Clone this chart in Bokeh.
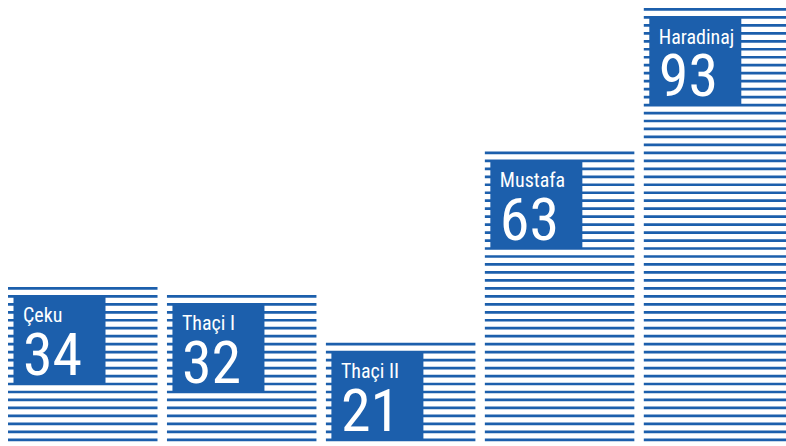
import numpy as np
from bokeh.plotting import figure
from bokeh.models import ColumnDataSource, Range1d
from bokeh.core.properties import value
from bokeh.embed import file_html
from bokeh.resources import INLINE

# ---- data ----
names = ["Çeku", "Thaçi I", "Thaçi II", "Mustafa", "Haradinaj"]
values = [34, 32, 21, 63, 93]

# ---- styling / layout constants ----
COLOR = "#1c5fac"
FONT = ("Noto Sans ExtraCondensed, Noto Sans Condensed, Roboto Condensed, "
        "Liberation Sans Narrow, DejaVu Sans Condensed, sans-serif")
W, H = 786, 446
KX = 158.95            # px per bar slot
STEP = 1.71            # stripe step (data units)
KY = 7.97 / STEP       # px per data unit
HW = 149.5 / KX / 2    # half bar width (data units)
x_start = -HW - 7.5 / KX
y_start = STEP - 6.7 / KY

p = figure(width=W, height=H, output_backend="svg", toolbar_location=None,
           x_range=Range1d(x_start, x_start + W / KX),
           y_range=Range1d(y_start, y_start + H / KY),
           x_axis_location=None, y_axis_location=None, min_border=0)
p.xgrid.visible = False
p.ygrid.visible = False
p.outline_line_color = None
p.background_fill_color = "white"
p.border_fill_color = "white"

# stripes
sx0, sx1, sy = [], [], []
tops = []
for i, v in enumerate(values):
    n = int(np.ceil(v / STEP))
    ys = STEP * np.arange(1, n + 1)
    tops.append(ys[-1])
    for y in ys:
        sx0.append(i - HW)
        sx1.append(i + HW)
        sy.append(y)
p.segment(x0=sx0, y0=sy, x1=sx1, y1=sy, line_color=COLOR, line_width=2.7,
          line_cap="butt")

# label boxes
idx = np.arange(len(values))
left = idx - HW + 5.5 / KX
tops = np.array(tops)
box = ColumnDataSource(dict(
    left=left, right=left + 92 / KX,
    top=tops - 7.5 / KY, bottom=tops - 7.5 / KY - 88 / KY,
))
p.quad(left="left", right="right", top="top", bottom="bottom", source=box,
       fill_color=COLOR, line_color=None)

NAME_FS, NUM_FS = 20, 60
tx = idx - HW + 15 / KX
p.text(x=tx, y=tops - (34.5 - 0.37 * NAME_FS) / KY, text=names,
       text_color="white", text_font=value(FONT),
       text_font_size=f"{NAME_FS}px",
       text_baseline="alphabetic", text_align="left")
p.text(x=tx, y=tops - (88 - 0.37 * NUM_FS) / KY, text=[str(v) for v in values],
       text_color="white", text_font=value(FONT),
       text_font_size=f"{NUM_FS}px",
       text_baseline="alphabetic", text_align="left")

open("out.html", "w").write(file_html(p, INLINE))
